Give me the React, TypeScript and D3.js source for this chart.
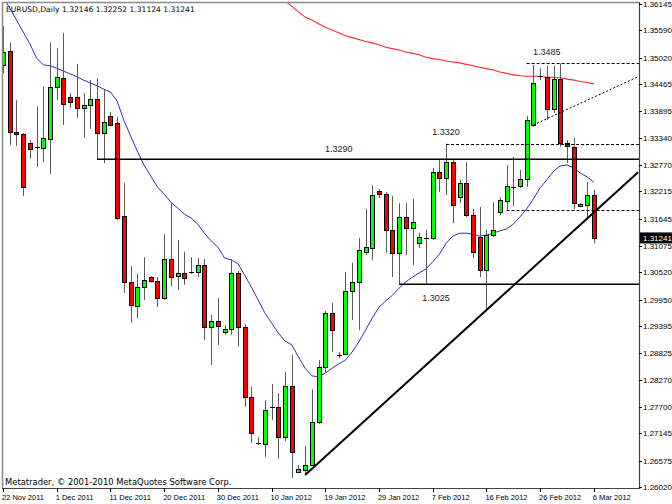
import React from 'react';
import * as d3 from 'd3';

// ---- data (EURUSD daily OHLC) ----
const opens = [1.3487,1.3517,1.3346,1.3342,1.3323,1.3313,1.3313,1.3332,1.3441,1.3459,1.3420,1.3420,1.3397,1.3403,1.3415,1.3344,1.3380,1.3365,1.3170,1.3032,1.2981,1.3021,1.3042,1.3034,1.2998,1.3080,1.3044,1.3051,1.3053,1.3053,1.3067,1.2937,1.2950,1.2927,1.2933,1.3051,1.2937,1.2791,1.2695,1.2692,1.2770,1.2770,1.2707,1.2814,1.2634,1.2638,1.2648,1.2738,1.2854,1.2967,1.2879,1.2881,1.3013,1.3032,1.3095,1.3103,1.3223,1.3216,1.3141,1.3093,1.3168,1.3145,1.3114,1.3124,1.3124,1.3262,1.3250,1.3283,1.3210,1.3239,1.3172,1.3126,1.3057,1.3130,1.3179,1.3202,1.3231,1.3233,1.3248,1.3361,1.3464,1.3462,1.3394,1.3457,1.3323,1.3315,1.3191,1.3193,1.32146];
const highs = [1.3568,1.3533,1.3413,1.3344,1.3329,1.3399,1.3441,1.3533,1.3522,1.3554,1.3428,1.3489,1.3428,1.3455,1.3459,1.3434,1.3388,1.3378,1.3239,1.3065,1.3049,1.3084,1.3044,1.3042,1.3132,1.3197,1.3120,1.3095,1.3084,1.3082,1.3080,1.2963,1.2998,1.2942,1.3080,1.3055,1.2944,1.2812,1.2707,1.2784,1.2818,1.2799,1.2843,1.2879,1.2648,1.2688,1.2807,1.2868,1.2971,1.2988,1.2885,1.3053,1.3072,1.3124,1.3185,1.3235,1.3227,1.3220,1.3212,1.3197,1.3197,1.3206,1.3135,1.3141,1.3271,1.3288,1.3322,1.3288,1.3246,1.3283,1.3185,1.3189,1.3141,1.3199,1.3210,1.3277,1.3294,1.3267,1.3380,1.3487,1.3480,1.3485,1.3485,1.3490,1.3329,1.3334,1.3197,1.3241,1.32252];
const lows = [1.3470,1.3319,1.3317,1.3212,1.3290,1.3273,1.3283,1.3258,1.3413,1.3361,1.3397,1.3376,1.3334,1.3353,1.3289,1.3281,1.3359,1.3162,1.3009,1.2946,1.2956,1.2994,1.3030,1.2979,1.2994,1.3023,1.3015,1.3026,1.3049,1.3042,1.2910,1.2858,1.2900,1.2921,1.2921,1.2896,1.2770,1.2694,1.2690,1.2665,1.2743,1.2661,1.2698,1.2621,1.2632,1.2629,1.2646,1.2734,1.2841,1.2885,1.2872,1.2879,1.2952,1.2931,1.3088,1.3078,1.3208,1.3093,1.3042,1.3027,1.3088,1.3067,1.3103,1.3028,1.3120,1.3220,1.3214,1.3155,1.3197,1.3168,1.3082,1.3042,1.2973,1.3126,1.3172,1.3183,1.3191,1.3229,1.3231,1.3357,1.3455,1.3371,1.3386,1.3315,1.3281,1.3185,1.3189,1.3168,1.31124];
const closes = [1.3514,1.3346,1.3342,1.3231,1.3311,1.3314,1.3334,1.3441,1.3462,1.3405,1.3409,1.3397,1.3403,1.3415,1.3344,1.3367,1.3361,1.3166,1.3032,1.2984,1.3021,1.3036,1.3034,1.2998,1.3080,1.3042,1.3051,1.3040,1.3052,1.3067,1.2937,1.2950,1.2940,1.2933,1.3051,1.2937,1.2791,1.2715,1.2694,1.2763,1.2769,1.2707,1.2814,1.2675,1.2640,1.2648,1.2738,1.2854,1.2967,1.2931,1.2878,1.3013,1.3032,1.3099,1.3105,1.3214,1.3216,1.3141,1.3093,1.3168,1.3145,1.3158,1.3126,1.3123,1.3262,1.3250,1.3283,1.3193,1.3239,1.3172,1.3095,1.3057,1.3130,1.3141,1.3204,1.3233,1.3230,1.3248,1.3371,1.3449,1.3463,1.3394,1.3457,1.3323,1.3317,1.3197,1.3195,1.3214,1.31241];

// blue moving average (read per bar)
const maFast = [1.3629,1.3606,1.3581,1.3556,1.3531,1.3501,1.3487,1.3485,1.3480,1.3474,1.3468,1.3462,1.3455,1.3449,1.3443,1.3436,1.3430,1.3411,1.3371,1.3338,1.3306,1.3277,1.3254,1.3231,1.3216,1.3199,1.3187,1.3174,1.3166,1.3153,1.3134,1.3118,1.3105,1.3082,1.3078,1.3070,1.3046,1.3021,1.2994,1.2967,1.2946,1.2925,1.2908,1.2900,1.2875,1.2851,1.2835,1.2833,1.2841,1.2851,1.2860,1.2868,1.2885,1.2906,1.2931,1.2956,1.2979,1.2992,1.3004,1.3019,1.3032,1.3042,1.3051,1.3059,1.3074,1.3090,1.3113,1.3128,1.3134,1.3134,1.3132,1.3128,1.3130,1.3134,1.3139,1.3143,1.3153,1.3168,1.3185,1.3206,1.3229,1.3246,1.3264,1.3275,1.3277,1.3271,1.3260,1.3252,1.3241];
// red moving average (visible from bar 41)
const maSlow: (number | null)[] = [null,null,null,null,null,null,null,null,null,null,null,null,null,null,null,null,null,null,null,null,null,null,null,null,null,null,null,null,null,null,null,null,null,null,null,null,null,null,null,null,null,1.3631,1.3621,1.3610,1.3598,1.3587,1.3581,1.3573,1.3566,1.3560,1.3554,1.3548,1.3544,1.3540,1.3536,1.3533,1.3529,1.3524,1.3521,1.3518,1.3514,1.3511,1.3508,1.3503,1.3500,1.3498,1.3495,1.3493,1.3491,1.3488,1.3485,1.3482,1.3479,1.3476,1.3472,1.3469,1.3466,1.3464,1.3463,1.3463,1.3463,1.3461,1.3461,1.3460,1.3457,1.3455,1.3452,1.3450,1.3447];

const yTickValues = [1.36145,1.35590,1.35020,1.34465,1.33895,1.33340,1.32770,1.32215,1.31645,1.31075,1.30520,1.29950,1.29395,1.28825,1.28270,1.27700,1.27145,1.26575,1.26020];
const xTickBars = [0,8,16,24,32,40,48,56,64,72,80,88];
const xTickLabels = ['22 Nov 2011','1 Dec 2011','11 Dec 2011','20 Dec 2011','30 Dec 2011','10 Jan 2012','19 Jan 2012','29 Jan 2012','7 Feb 2012','16 Feb 2012','26 Feb 2012','6 Mar 2012'];

const solidLevels = [1.3289, 1.3027];
const solidLevelStart = [14, 59];
const dashedLevels = [1.3490, 1.3322, 1.3183];
const dashedLevelStart = [78, 66, 75];
const levelLabels = ['1.3290', '1.3025', '1.3485', '1.3320'];

const trendBars = [45, 94.6];
const trendPrices = [1.2627, 1.3262];
const channelBars = [79, 94.6];
const channelPrices = [1.3361, 1.3462];

const lastPrice = 1.31241;
const title = 'EURUSD,Daily  1.32146 1.32252 1.31124 1.31241';
const footer = 'Metatrader, \u00A9 2001-2010 MetaQuotes Software Corp.';

const FONT = '"Liberation Sans", Arial, sans-serif';
const WIDE = '"DejaVu Sans", Verdana, sans-serif';

export default function App() {
  const W = 672, H = 504;
  const L = 2, T = 2, R = 639, B = 488;
  const x = d3.scaleLinear().domain([0, 88]).range([3, 593.8]);
  const y = d3.scaleLinear().domain([1.26020, 1.36145]).range([487, 4]);

  const fastLine = d3.line<number>().x((_, i) => x(i)).y(d => y(d))(maFast) || '';
  const slowLine = d3.line<number | null>().defined(d => d != null).x((_, i) => x(i)).y(d => y(d as number))(maSlow) || '';
  const trend = d3.line<number>().x(d => x(trendBars[d])).y(d => y(trendPrices[d]))([0, 1]) || '';
  const channel = d3.line<number>().x(d => x(channelBars[d])).y(d => y(channelPrices[d]))([0, 1]) || '';

  return (
    <svg width={W} height={H} style={{ position: 'absolute', left: 0, top: 0, background: '#fff' }}>
      <defs>
        <clipPath id="plot"><rect x={L} y={T} width={R - L} height={B - T} /></clipPath>
      </defs>
      <rect x={0} y={0} width={W} height={H} fill="#fff" />
      <g clipPath="url(#plot)">
        {/* MAs */}
        <path d={slowLine} fill="none" stroke="#ff2a2a" strokeWidth={1.1} />
        <path d={fastLine} fill="none" stroke="#3030b8" strokeWidth={1} />
        {/* candles */}
        {opens.map((o, i) => {
          const cx = Math.round(x(i)) + 0.5;
          const c = closes[i];
          const yo = y(o), yc = y(c);
          const top = Math.min(yo, yc), bot = Math.max(yo, yc);
          const up = c >= o;
          return (
            <g key={i}>
              <line x1={cx} x2={cx} y1={y(highs[i])} y2={y(lows[i])} stroke="#5a5a5a" strokeWidth={1} />
              {bot - top < 1.2 ? (
                <line x1={cx - 2.5} x2={cx + 2.5} y1={Math.round(top) + 0.5} y2={Math.round(top) + 0.5} stroke="#000" strokeWidth={1} />
              ) : (
                <rect x={cx - 2} y={Math.round(top) + 0.5} width={4} height={Math.max(1, Math.round(bot) - Math.round(top))}
                  fill={up ? '#00ff00' : '#ff0000'} stroke="#000" strokeWidth={1} />
              )}
            </g>
          );
        })}
        {/* horizontal levels */}
        {solidLevels.map((p, i) => (
          <line key={'s' + i} x1={x(solidLevelStart[i])} x2={R} y1={y(p)} y2={y(p)} stroke="#000" strokeWidth={1.6} />
        ))}
        {dashedLevels.map((p, i) => (
          <line key={'d' + i} x1={x(dashedLevelStart[i])} x2={R} y1={Math.round(y(p)) + 0.5} y2={Math.round(y(p)) + 0.5} stroke="#000" strokeWidth={1} strokeDasharray="3,2" />
        ))}
        <path d={channel} fill="none" stroke="#000" strokeWidth={1} strokeDasharray="2,2" />
        <path d={trend} fill="none" stroke="#000" strokeWidth={2} />
      </g>
      {/* level labels */}
      <g fontFamily={FONT} fontSize={9} fill="#222" textAnchor="middle">
        <text x={x(50)} y={y(solidLevels[0]) - 7}>{levelLabels[0]}</text>
        <text x={x(64.5)} y={y(solidLevels[1]) + 17}>{levelLabels[1]}</text>
        <text x={x(81)} y={y(dashedLevels[0]) - 8}>{levelLabels[2]}</text>
        <text x={x(66)} y={y(dashedLevels[1]) - 9}>{levelLabels[3]}</text>
      </g>
      {/* frame */}
      <line x1={L + 0.5} x2={L + 0.5} y1={T} y2={B} stroke="#8a8a8a" strokeWidth={1.5} />
      <line x1={L} x2={R} y1={T + 0.5} y2={T + 0.5} stroke="#8a8a8a" strokeWidth={1.5} />
      <line x1={R + 0.5} x2={R + 0.5} y1={T} y2={B + 1} stroke="#444" strokeWidth={1.2} />
      <line x1={L} x2={R + 1} y1={B + 0.5} y2={B + 0.5} stroke="#444" strokeWidth={1.2} />
      {/* y axis */}
      <g fontFamily={FONT} fontSize={8} fill="#000">
        {yTickValues.map((v, i) => (
          <g key={i}>
            <line x1={R} x2={R + 3} y1={Math.round(y(v)) + 0.5} y2={Math.round(y(v)) + 0.5} stroke="#000" />
            <text x={R + 4} y={y(v) + 3}>{v.toFixed(5)}</text>
          </g>
        ))}
        <rect x={R + 1} y={y(lastPrice) - 5.5} width={W - R - 1} height={11} fill="#000" />
        <text x={R + 4} y={y(lastPrice) + 3} fill="#fff">{lastPrice.toFixed(5)}</text>
      </g>
      {/* x axis */}
      <g fontFamily={FONT} fontSize={7.5} fill="#000">
        {xTickBars.map((b, i) => (
          <g key={i}>
            <line x1={Math.round(x(b)) + 0.5} x2={Math.round(x(b)) + 0.5} y1={B} y2={B + 4} stroke="#000" />
            <text x={x(b) - 1} y={500}>{xTickLabels[i]}</text>
          </g>
        ))}
      </g>
      <text x={6} y={12} fontFamily={WIDE} fontSize={7.6} fill="#000">{title}</text>
      <text x={5} y={485} fontFamily={WIDE} fontSize={8.4} fill="#000">{footer}</text>
    </svg>
  );
}
